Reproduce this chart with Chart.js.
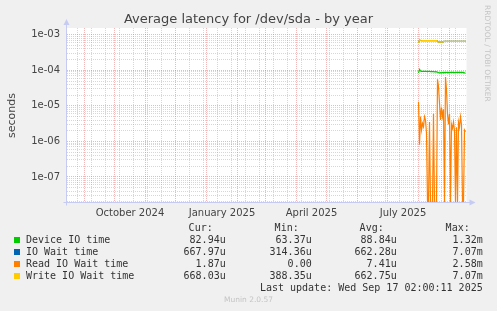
<!DOCTYPE html>
<html>
<head>
<meta charset="utf-8">
<script src="https://cdn.jsdelivr.net/npm/chart.js@4.4.1/dist/chart.umd.min.js"></script>
<style>
  body { margin: 0; background: #f0f0f0; }
  #wrap { position: relative; width: 497px; height: 311px; overflow: hidden; color: #333; }
  #chart { position: absolute; left: 0; top: 0; }
  .t { position: absolute; white-space: pre; font-family: 'DejaVu Sans Mono', monospace; font-size: 10px; line-height: 12px; }
  .sq { position: absolute; width: 6px; height: 6px; }
  #title { position: absolute; left: 0; width: 497px; top: 11px; text-align: center; font-family: 'DejaVu Sans', sans-serif; font-size: 13px; line-height: 16px; color: #444; }
  #mark { position: absolute; left: 483px; top: 5px; writing-mode: vertical-rl; font-family: 'DejaVu Sans', sans-serif; font-size: 7.5px; color: #c4c4c4; }
  #munin { position: absolute; left: 0; width: 497px; top: 295px; text-align: center; font-family: 'DejaVu Sans', sans-serif; font-size: 7.5px; line-height: 10px; color: #c4c4c4; }
</style>
</head>
<body>
<div id="wrap">
  <canvas id="chart" width="497" height="311"></canvas>
  <div id="title">Average latency for /dev/sda - by year</div>
  <div id="mark">RRDTOOL / TOBI OETIKER</div>
  <div id="legend"></div>
  <div id="munin">Munin 2.0.57</div>
</div>
<script>
// days counted from 1 Sep 2024
const firstDay = 334;
const deviceIO = [8.5e-5, 1.06e-4, 9.6e-5, 9.3e-5, 9.4e-5, 9.3e-5, 9.3e-5, 9.4e-5, 9.3e-5, 9.2e-5,
  9.3e-5, 9.3e-5, 9.2e-5, 9.3e-5, 9.2e-5, 9.2e-5, 9.1e-5, 9.2e-5, 9.0e-5, 8.8e-5,
  8.6e-5, 8.5e-5, 8.6e-5, 8.5e-5, 8.7e-5, 8.5e-5, 8.7e-5, 8.6e-5, 8.8e-5, 8.6e-5,
  8.7e-5, 8.6e-5, 8.8e-5, 8.7e-5, 8.8e-5, 8.7e-5, 8.6e-5, 8.8e-5, 8.7e-5, 8.8e-5,
  8.8e-5, 8.7e-5, 8.8e-5, 8.8e-5, 8.7e-5, 8.6e-5, 8.5e-5, 8.3e-5];
const ioWait = [5.9e-4, 7.1e-4, 6.9e-4, 6.8e-4, 6.8e-4, 6.8e-4, 6.8e-4, 6.8e-4, 6.8e-4, 6.8e-4,
  6.8e-4, 6.8e-4, 6.8e-4, 6.8e-4, 6.8e-4, 6.8e-4, 6.8e-4, 6.8e-4, 6.8e-4, 6.7e-4,
  6.2e-4, 6.2e-4, 6.2e-4, 6.2e-4, 6.2e-4, 6.4e-4, 6.5e-4, 6.5e-4, 6.5e-4, 6.5e-4,
  6.5e-4, 6.5e-4, 6.5e-4, 6.5e-4, 6.5e-4, 6.5e-4, 6.5e-4, 6.5e-4, 6.5e-4, 6.5e-4,
  6.5e-4, 6.5e-4, 6.5e-4, 6.5e-4, 6.5e-4, 6.5e-4, 6.5e-4, 6.6e-4];
const readWait = [1.3e-5, 8e-7, 5e-6, 2.1e-6, 3.2e-6, 2.6e-6, 5e-6, 4e-6, 1.7e-6, 0,
  0, 3.5e-6, 0, 0, 0, 6e-6, 0, 0, 0, 5.6e-5,
  3.5e-5, 1.2e-5, 4e-6, 9e-6, 5e-6, 8e-6, 0, 6.5e-5, 2.8e-5, 6e-6,
  3e-6, 6e-6, 0, 3e-6, 2.3e-6, 3.5e-6, 2e-6, 0, 2.5e-6, 0,
  3.5e-6, 2.5e-6, 4.9e-6, 3e-6, 0, 0, 2.1e-6, 1.87e-6];
const writeWait = [5.9e-4, 7.2e-4, 6.9e-4, 6.8e-4, 6.8e-4, 6.8e-4, 6.8e-4, 6.8e-4, 6.8e-4, 6.8e-4,
  6.8e-4, 6.8e-4, 6.8e-4, 6.8e-4, 6.8e-4, 6.8e-4, 6.8e-4, 6.8e-4, 6.8e-4, 6.7e-4,
  6.2e-4, 6.2e-4, 6.2e-4, 6.2e-4, 6.2e-4, 6.4e-4, 6.5e-4, 6.5e-4, 6.5e-4, 6.5e-4,
  6.5e-4, 6.5e-4, 6.5e-4, 6.5e-4, 6.5e-4, 6.5e-4, 6.5e-4, 6.5e-4, 6.5e-4, 6.5e-4,
  6.5e-4, 6.5e-4, 6.5e-4, 6.5e-4, 6.5e-4, 6.5e-4, 6.5e-4, 6.6e-4];

const monthStarts = [0, 30, 61, 91, 122, 153, 181, 212, 242, 273, 303, 334, 365];
const monthLabels = ['October 2024', 'January 2025', 'April 2025', 'July 2025'];
const monthLabelDays = [45.5, 137.5, 227, 318.5];

const seriesNames = ['Device IO time', 'IO Wait time', 'Read IO Wait time', 'Write IO Wait time'];
const seriesColors = ['#00cc00', '#0066b3', '#ff8000', '#ffcc00'];
const curVals = ['82.94u', '667.97u', '1.87u', '668.03u'];
const minVals = ['63.37u', '314.36u', '0.00', '388.35u'];
const avgVals = ['88.84u', '662.28u', '7.41u', '662.75u'];
const maxVals = ['1.32m', '7.07m', '2.58m', '7.07m'];
const lastUpdate = 'Last update: Wed Sep 17 02:00:11 2025';

const xMin = -17.5, xMax = 382;
const yMin = 1.85e-8, yMax = 1.55e-3;

// grid ticks
const minorDays = [];
for (let d = -7; d < xMax; d += 14) minorDays.push(d);
const xTicks = [...new Set([...minorDays, ...monthStarts, ...monthLabelDays])].sort((a, b) => a - b);

const yTicks = [];
for (let e = -8; e <= -3; e++) {
  for (let m = 1; m <= 9; m++) {
    const v = Number((m * Math.pow(10, e)).toPrecision(3));
    if (v >= yMin && v <= yMax) yTicks.push(v);
  }
}
function isDecade(v) {
  const e = Math.floor(Math.log10(v) + 1e-9);
  return Math.round(v / Math.pow(10, e)) === 1;
}

function toPoints(arr) {
  // rrdtool draws zero at the bottom edge of a log graph
  return arr.map((v, i) => ({ x: firstDay + i, y: v > 0 ? v : yMin }));
}

const redGrid = 'rgba(225,95,95,0.45)';
const grayGrid = 'rgba(150,150,150,0.38)';
const axisColor = '#c6cbf3';

const plotBg = {
  id: 'plotBg',
  beforeDraw(chart) {
    const { ctx, chartArea: a } = chart;
    ctx.save();
    ctx.fillStyle = '#fff';
    ctx.fillRect(a.left, a.top, a.right - a.left, a.bottom - a.top);
    ctx.restore();
  },
  afterDraw(chart) {
    const { ctx, chartArea: a } = chart;
    const x0 = Math.round(a.left) - 0.5, y0 = Math.round(a.bottom) - 0.5;
    ctx.save();
    ctx.strokeStyle = axisColor;
    ctx.fillStyle = axisColor;
    ctx.lineWidth = 1;
    ctx.beginPath();
    ctx.moveTo(x0, y0 + 3); ctx.lineTo(x0, a.top - 4);
    ctx.moveTo(x0 - 3, y0); ctx.lineTo(a.right + 4, y0);
    ctx.stroke();
    ctx.beginPath();
    ctx.moveTo(x0 - 3, a.top - 3); ctx.lineTo(x0 + 3, a.top - 3); ctx.lineTo(x0, a.top - 9); ctx.closePath();
    ctx.fill();
    ctx.beginPath();
    ctx.moveTo(a.right + 3, y0 - 3); ctx.lineTo(a.right + 3, y0 + 3); ctx.lineTo(a.right + 9, y0); ctx.closePath();
    ctx.fill();
    ctx.restore();
  }
};

new Chart(document.getElementById('chart'), {
  type: 'line',
  data: {
    datasets: [
      { label: seriesNames[3], data: toPoints(writeWait), borderColor: seriesColors[3], order: 0 },
      { label: seriesNames[2], data: toPoints(readWait), borderColor: seriesColors[2], order: 1 },
      { label: seriesNames[1], data: toPoints(ioWait), borderColor: seriesColors[1], order: 2 },
      { label: seriesNames[0], data: toPoints(deviceIO), borderColor: seriesColors[0], order: 3 }
    ]
  },
  options: {
    responsive: false,
    animation: false,
    layout: { padding: { left: 0, top: 28, right: 30.5, bottom: 88 } },
    elements: {
      point: { radius: 0 },
      line: { borderWidth: 1.2, tension: 0, fill: false }
    },
    plugins: { legend: { display: false }, tooltip: { enabled: false }, title: { display: false } },
    scales: {
      x: {
        type: 'linear',
        min: xMin,
        max: xMax,
        afterBuildTicks: s => { s.ticks = xTicks.map(v => ({ value: v })); },
        afterFit: s => { s.height = 20; },
        ticks: {
          autoSkip: false,
          maxRotation: 0,
          padding: 4,
          color: '#444',
          font: { family: 'DejaVu Sans', size: 10 },
          callback: v => {
            const i = monthLabelDays.indexOf(v);
            return i >= 0 ? monthLabels[i] : '';
          }
        },
        grid: {
          drawTicks: false,
          color: c => {
            const v = c.tick ? c.tick.value : null;
            if (monthStarts.includes(v)) return redGrid;
            if (minorDays.includes(v)) return grayGrid;
            return 'rgba(0,0,0,0)';
          }
        },
        border: { display: false, dash: [1, 1] }
      },
      y: {
        type: 'logarithmic',
        min: yMin,
        max: yMax,
        afterBuildTicks: s => { s.ticks = yTicks.map(v => ({ value: v })); },
        afterFit: s => { s.width = 67; },
        ticks: {
          autoSkip: false,
          padding: 7,
          color: '#444',
          font: { family: 'DejaVu Sans', size: 10 },
          callback: v => {
            if (!isDecade(v)) return '';
            const e = Math.round(Math.log10(v));
            return '1e-' + String(-e).padStart(2, '0');
          }
        },
        grid: {
          drawTicks: false,
          color: c => (c.tick && isDecade(c.tick.value)) ? redGrid : grayGrid
        },
        border: { display: false, dash: [1, 1] },
        title: {
          display: true,
          text: 'seconds',
          color: '#444',
          font: { family: 'DejaVu Sans', size: 11 },
          padding: { top: 6, bottom: 0 }
        }
      }
    }
  },
  plugins: [plotBg]
});

// legend table under the graph
const legend = document.getElementById('legend');
function addText(txt, top, left, right) {
  const d = document.createElement('div');
  d.className = 't';
  d.textContent = txt;
  d.style.top = top + 'px';
  if (left !== null) d.style.left = left + 'px';
  else d.style.right = (497 - right) + 'px';
  legend.appendChild(d);
}
const colRight = [225.7, 311.7, 396.7, 482.7];
const headers = ['Cur:', 'Min:', 'Avg:', 'Max:'];
headers.forEach((h, i) => addText(h, 221.7, null, colRight[i] - 13));
seriesNames.forEach((name, r) => {
  const top = 233.7 + r * 12;
  const sq = document.createElement('div');
  sq.className = 'sq';
  sq.style.left = '14px';
  sq.style.top = (top + 3) + 'px';
  sq.style.background = seriesColors[r];
  legend.appendChild(sq);
  addText(name, top, 26, null);
  [curVals, minVals, avgVals, maxVals].forEach((col, i) => addText(col[r], top, null, colRight[i]));
});
addText(lastUpdate, 281.7, null, 482.7);
</script>
</body>
</html>
